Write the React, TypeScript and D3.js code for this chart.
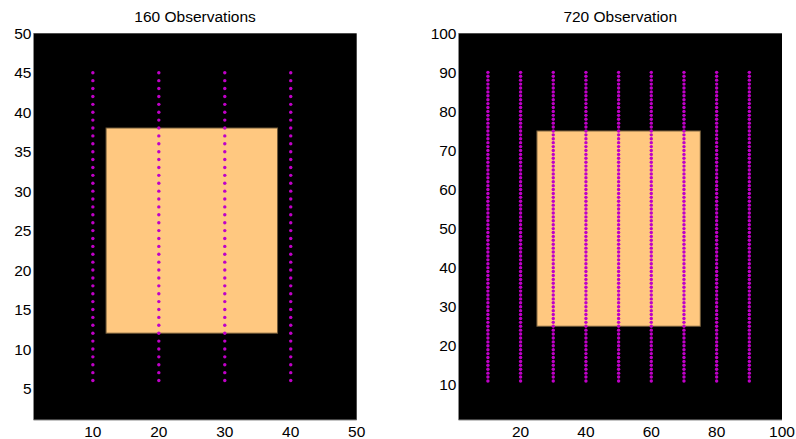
import { useEffect, useRef } from "react";
import * as d3 from "d3";

const W = 796;
const H = 439;

// left panel: 4 columns x 40 rows = 160 observations
const leftTitle = "160 Observations";
const leftCols = [10, 20, 30, 40];
const leftRows = [6, 45]; // first and last y of each column
const leftRect = [12, 12, 38, 38]; // x0, y0, x1, y1
const leftXTicks = [10, 20, 30, 40, 50];
const leftYTicks = [5, 10, 15, 20, 25, 30, 35, 40, 45, 50];

// right panel: 9 columns x 80 rows = 720 observations
const rightTitle = "720 Observation";
const rightCols = [10, 20, 30, 40, 50, 60, 70, 80, 90];
const rightRows = [11, 90];
const rightRect = [25, 25, 75, 75];
const rightXTicks = [20, 40, 60, 80, 100];
const rightYTicks = [10, 20, 30, 40, 50, 60, 70, 80, 90, 100];

interface Panel {
  title: string;
  cols: number[];
  rows: number[];
  rect: number[];
  xTicks: number[];
  yTicks: number[];
  max: number;
  left: number;
  right: number;
}

const panels: Panel[] = [
  { title: leftTitle, cols: leftCols, rows: leftRows, rect: leftRect, xTicks: leftXTicks, yTicks: leftYTicks, max: 50, left: 33.5, right: 356.7 },
  { title: rightTitle, cols: rightCols, rows: rightRows, rect: rightRect, xTicks: rightXTicks, yTicks: rightYTicks, max: 100, left: 458.5, right: 782 },
];

const top = 33.3;
const bottom = 420;

export default function App() {
  const ref = useRef<SVGSVGElement | null>(null);

  useEffect(() => {
    if (!ref.current) return;
    const svg = d3.select(ref.current);
    svg.selectAll("*").remove();
    svg.append("rect").attr("width", W).attr("height", H).attr("fill", "#fff");

    panels.forEach((p) => {
      const x = d3.scaleLinear().domain([1, p.max]).range([p.left, p.right]);
      const y = d3.scaleLinear().domain([1, p.max]).range([bottom, top]);
      const g = svg.append("g").style("font-family", "'Liberation Sans', Arial, sans-serif");

      g.append("rect")
        .attr("x", p.left)
        .attr("y", top)
        .attr("width", p.right - p.left)
        .attr("height", bottom - top)
        .attr("fill", "#000");

      const [rx0, ry0, rx1, ry1] = p.rect;
      g.append("rect")
        .attr("x", x(rx0))
        .attr("y", y(ry1))
        .attr("width", x(rx1) - x(rx0))
        .attr("height", y(ry0) - y(ry1))
        .attr("fill", "#ffc880")
        .attr("stroke", "#6e5838")
        .attr("stroke-width", 1);

      const pts: [number, number][] = [];
      p.cols.forEach((c) => {
        d3.range(p.rows[0], p.rows[1] + 1).forEach((r) => pts.push([c, r]));
      });
      g.append("g")
        .selectAll("circle")
        .data(pts)
        .join("circle")
        .attr("cx", (d) => x(d[0]))
        .attr("cy", (d) => y(d[1]))
        .attr("r", 1.7)
        .attr("fill", "#c000c8");

      // axis lines
      g.append("line")
        .attr("x1", p.left).attr("x2", p.left)
        .attr("y1", top).attr("y2", bottom)
        .attr("stroke", "#8a8a8a");
      g.append("line")
        .attr("x1", p.left).attr("x2", p.right)
        .attr("y1", bottom).attr("y2", bottom)
        .attr("stroke", "#8a8a8a");

      g.append("g")
        .selectAll("text")
        .data(p.xTicks)
        .join("text")
        .attr("x", (d) => x(d))
        .attr("y", 437)
        .attr("text-anchor", "middle")
        .attr("font-size", 15.5)
        .text((d) => d);

      g.append("g")
        .selectAll("text")
        .data(p.yTicks)
        .join("text")
        .attr("x", p.left - 2)
        .attr("y", (d) => y(d))
        .attr("dy", "0.36em")
        .attr("text-anchor", "end")
        .attr("font-size", 15.5)
        .text((d) => d);

      g.append("text")
        .attr("x", (p.left + p.right) / 2)
        .attr("y", 21.5)
        .attr("text-anchor", "middle")
        .attr("font-size", 15.5)
        .text(p.title);
    });
  }, []);

  return (
    <svg
      ref={ref}
      width={W}
      height={H}
      style={{ position: "absolute", left: 0, top: 0 }}
    />
  );
}
